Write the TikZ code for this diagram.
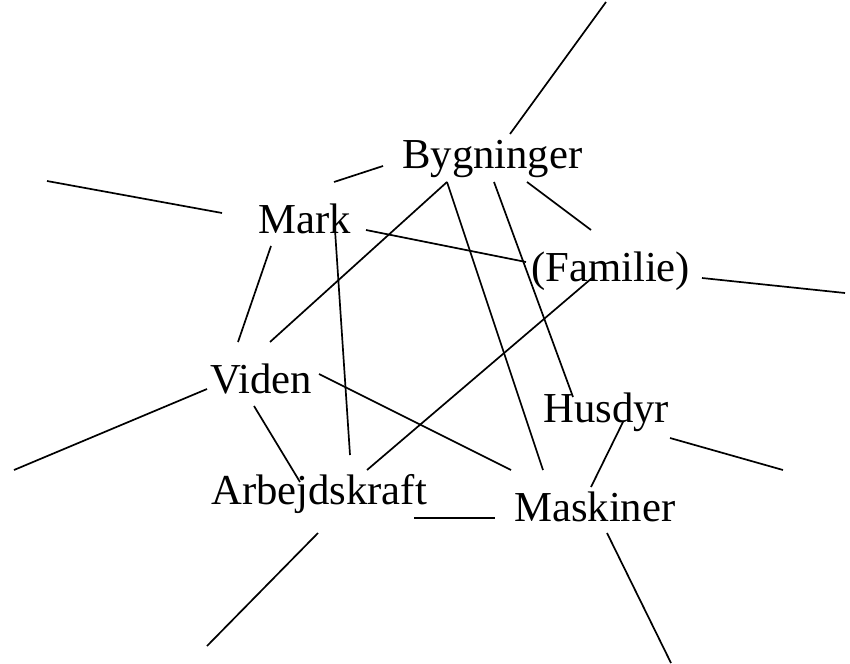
\documentclass[tikz,border=0pt]{standalone}
\usepackage{fontspec}
\setmainfont{Liberation Serif}
\begin{document}
\begin{tikzpicture}[x=1pt,y=-1pt,
  lbl/.style={anchor=base west,inner sep=0pt,font=\fontsize{42.7}{50}\selectfont},
  con/.style={line width=1.7pt,black}]
\useasboundingbox (0,0) rectangle (850,663);
% labels
\node[lbl] (byg) at (402,168) {Bygninger};
\node[lbl] (mark) at (258,233) {Mark};
\node[lbl] (fam) at (531,281) {(Familie)};
\node[lbl] (vid) at (210,393) {Viden};
\node[lbl] (hus) at (543,422) {Husdyr};
\node[lbl] (arb) at (211,504) {Arbejdskraft};
\node[lbl] (mas) at (514,521) {Maskiner};
% endpoints
\coordinate (b1) at (510,134); \coordinate (b1o) at (606,2);
\coordinate (bm) at (383,166); \coordinate (mb) at (334,182);
\coordinate (ml) at (222,213); \coordinate (mlo) at (47,181);
\coordinate (bv) at (447,182); \coordinate (vb) at (270,342);
\coordinate (bmas) at (447,182); \coordinate (masb) at (543,470);
\coordinate (bh) at (494,182); \coordinate (hb) at (573,397);
\coordinate (bf) at (527,182); \coordinate (fb) at (591,230);
\coordinate (mf) at (366,230); \coordinate (fm) at (526,262);
\coordinate (mv) at (271,246); \coordinate (vm) at (238,342);
\coordinate (ma) at (335,230); \coordinate (am) at (350,455);
\coordinate (fa) at (592,278); \coordinate (af) at (367,470);
\coordinate (fr) at (702,278); \coordinate (fro) at (845,293);
\coordinate (vl) at (207,389); \coordinate (vlo) at (14,470);
\coordinate (va) at (254,406); \coordinate (av) at (300,482);
\coordinate (vmas) at (319,374); \coordinate (masv) at (511,470);
\coordinate (amas) at (414,518); \coordinate (masa) at (495,518);
\coordinate (ab) at (318,533); \coordinate (abo) at (207,646);
\coordinate (hm) at (623,422); \coordinate (mh) at (591,487);
\coordinate (hr) at (670,438); \coordinate (hro) at (783,470);
\coordinate (mbt) at (607,533); \coordinate (mbto) at (671,663);
% connectors
\draw[con] (b1) -- (b1o);
\draw[con] (bm) -- (mb);
\draw[con] (ml) -- (mlo);
\draw[con] (bv) -- (vb);
\draw[con] (bmas) -- (masb);
\draw[con] (bh) -- (hb);
\draw[con] (bf) -- (fb);
\draw[con] (mf) -- (fm);
\draw[con] (mv) -- (vm);
\draw[con] (ma) -- (am);
\draw[con] (fa) -- (af);
\draw[con] (fr) -- (fro);
\draw[con] (vl) -- (vlo);
\draw[con] (va) -- (av);
\draw[con] (vmas) -- (masv);
\draw[con] (amas) -- (masa);
\draw[con] (ab) -- (abo);
\draw[con] (hm) -- (mh);
\draw[con] (hr) -- (hro);
\draw[con] (mbt) -- (mbto);
\end{tikzpicture}
\end{document}
